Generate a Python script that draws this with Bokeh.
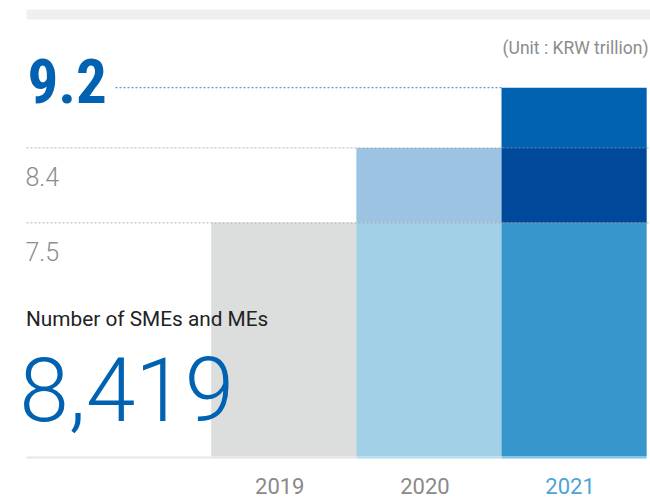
import math
from bokeh.plotting import figure
from bokeh.models import Label, BoxAnnotation, Range1d
from bokeh.core.properties import value
from bokeh.embed import file_html
from bokeh.resources import INLINE

# ---------------- data ----------------
years = [2019, 2020, 2021]
year_labels = ["2019", "2020", "2021"]
amounts = [7.5, 8.4, 9.2]            # KRW trillion
amount_labels = ["7.5", "8.4", "9.2"]
sme_count_label = "8,419"
unit_label = "(Unit : KRW trillion)"
count_title = "Number of SMEs and MEs"

# ---------------- style ----------------
seg_colors = {
    2019: ["#dcdedd"],
    2020: ["#a2d0e6", "#9dc3e3"],
    2021: ["#3797cd", "#00489a", "#0062b0"],
}
base_strip_colors = ["#e4e4e4", "#b4dcef", "#7fc2e9"]
year_colors = ["#8a8a8a", "#8a8a8a", "#4ea3d9"]
BLUE = "#0062b0"
GRAY_TXT = "#8c8c8c"

W, H = 650, 499
# log vertical scale fitted to the picture
K = 661.5
LN_C = 2.12078
FY_C = 152.33


def val_at(fy):
    return math.exp(LN_C - (fy - FY_C) / K)


X0 = 283.25
XU = 145.17


def x_at(fx):
    return years[0] + (fx - X0) / XU


y_start, y_end = val_at(H), val_at(0)
base = val_at(456)

p = figure(width=W, height=H, output_backend="svg", toolbar_location=None,
           x_range=Range1d(x_at(0), x_at(W)), y_range=Range1d(y_start, y_end),
           y_axis_type="log", min_border=0)
p.axis.visible = False
p.grid.visible = False
p.outline_line_color = None
p.background_fill_color = "white"
p.border_fill_color = "white"

# stacked comparison segments
lefts, rights, bottoms, tops, cols = [], [], [], [], []
for i, yr in enumerate(years):
    for j in range(i + 1):
        lefts.append(yr - 0.5)
        rights.append(yr + 0.5)
        bottoms.append(base if j == 0 else amounts[j - 1])
        tops.append(amounts[j])
        cols.append(seg_colors[yr][j])
p.quad(left=lefts, right=rights, bottom=bottoms, top=tops, fill_color=cols, line_color=None)

# baseline
strip_b = val_at(458)
p.quad(left=[x_at(26)], right=[years[0] - 0.5], bottom=[strip_b], top=[base],
       fill_color="#e6e6e6", line_color=None)
p.quad(left=[y - 0.5 for y in years], right=[y + 0.5 for y in years],
       bottom=[strip_b] * 3, top=[base] * 3, fill_color=base_strip_colors, line_color=None)

# dotted reference lines
p.segment(x0=[x_at(26)] * 2, x1=[x_at(W)] * 2, y0=amounts[:2], y1=amounts[:2],
          line_color="#9a9a9a", line_alpha=0.75, line_width=1, line_dash="2 2")
p.segment(x0=[x_at(115)], x1=[years[2] - 0.5], y0=[amounts[2]], y1=[amounts[2]],
          line_color="#5f9ad4", line_width=1.3, line_dash="2 2")

# value labels
p.text(x=[x_at(27)], y=[amounts[2]], text=[amount_labels[2]], text_font=value("Roboto Condensed"),
       text_font_style="bold", text_font_size="61px", text_color=BLUE,
       text_baseline="alphabetic", y_offset=-6.5)
p.text(x=[x_at(25)] * 2, y=amounts[:2], text=amount_labels[:2], text_font=value("Roboto Light"),
       text_font_size="25px", text_color=GRAY_TXT, text_baseline="alphabetic", y_offset=29)

# year labels
p.text(x=years, y=[base] * 3, text=year_labels, text_font=value("Roboto"), text_font_size="22px",
       text_color=year_colors, text_align="center", text_baseline="alphabetic",
       x_offset=-4, y_offset=29.5)

# top band
p.add_layout(BoxAnnotation(left=26, right=W, top=H - 9, bottom=H - 19,
                           left_units="screen", right_units="screen",
                           top_units="screen", bottom_units="screen",
                           fill_color="#efefef", fill_alpha=1, line_color=None, level="underlay"))

# annotations
p.add_layout(Label(x=648, y=H - 47.5, x_units="screen", y_units="screen", text=unit_label,
                   text_font="Roboto", text_font_size="17.5px", text_color=GRAY_TXT,
                   text_align="right", text_baseline="alphabetic"))
p.add_layout(Label(x=25.5, y=H - 318.6, x_units="screen", y_units="screen", text=count_title,
                   text_font="Roboto", text_font_size="20.8px", text_color="#222222",
                   text_baseline="alphabetic"))
p.add_layout(Label(x=19, y=H - 388.6, x_units="screen", y_units="screen", text=sme_count_label,
                   text_font="Roboto Light", text_font_size="89px", text_color=BLUE,
                   text_baseline="alphabetic"))

open("out.html", "w").write(file_html(p, INLINE))
